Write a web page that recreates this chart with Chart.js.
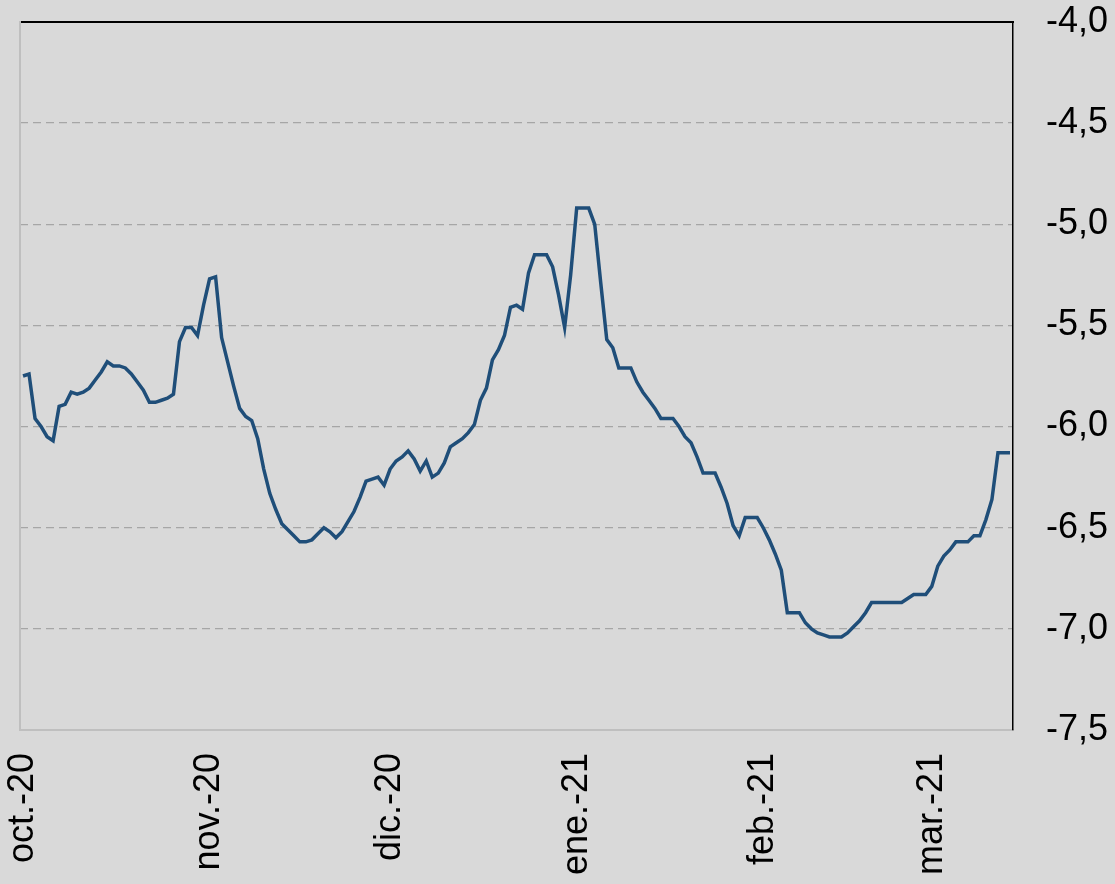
<!DOCTYPE html>
<html>
<head>
<meta charset="utf-8">
<script src="https://cdn.jsdelivr.net/npm/chart.js@4.4.1/dist/chart.umd.min.js"></script>
<style>
html,body{margin:0;padding:0;background:#d9d9d9;}
#wrap{width:1115px;height:884px;position:relative;}
</style>
</head>
<body>
<div id="wrap"><canvas id="c"></canvas></div>
<script>
// Categories: daily dates from 1 Oct 2020 to 14 Mar 2021
const firstDay = '2020-10-01';
const dayCount = 165;
// Month tick labels (shown on the first day of each month)
const monthNames = ['ene.','feb.','mar.','abr.','may.','jun.','jul.','ago.','sep.','oct.','nov.','dic.'];
// Y axis tick values
const yMin = -7.5, yMax = -4.0, yStep = 0.5;
// Series values (one per day)
const values = [
 -5.75,-5.74,-5.96,-6.00,-6.05,-6.07,-5.90,-5.89,-5.83,-5.84,
 -5.83,-5.81,-5.77,-5.73,-5.68,-5.70,-5.70,-5.71,-5.74,-5.78,
 -5.82,-5.88,-5.88,-5.87,-5.86,-5.84,-5.58,-5.51,-5.51,-5.55,
 -5.40,-5.27,-5.26,-5.56,-5.68,-5.80,-5.91,-5.95,-5.97,-6.06,
 -6.21,-6.33,-6.41,-6.48,-6.51,-6.54,-6.57,-6.57,-6.56,-6.53,
 -6.50,-6.52,-6.55,-6.52,-6.47,-6.42,-6.35,-6.27,-6.26,-6.25,
 -6.29,-6.21,-6.17,-6.15,-6.12,-6.16,-6.22,-6.17,-6.25,-6.23,
 -6.18,-6.10,-6.08,-6.06,-6.03,-5.99,-5.87,-5.81,-5.67,-5.62,
 -5.55,-5.41,-5.40,-5.42,-5.24,-5.15,-5.15,-5.15,-5.21,-5.35,
 -5.51,-5.25,-4.92,-4.92,-4.92,-5.00,-5.29,-5.57,-5.61,-5.71,
 -5.71,-5.71,-5.78,-5.83,-5.87,-5.91,-5.96,-5.96,-5.96,-6.00,
 -6.05,-6.08,-6.15,-6.23,-6.23,-6.23,-6.30,-6.38,-6.49,-6.54,
 -6.45,-6.45,-6.45,-6.50,-6.56,-6.63,-6.71,-6.92,-6.92,-6.92,
 -6.97,-7.00,-7.02,-7.03,-7.04,-7.04,-7.04,-7.02,-6.99,-6.96,
 -6.92,-6.87,-6.87,-6.87,-6.87,-6.87,-6.87,-6.85,-6.83,-6.83,
 -6.83,-6.79,-6.69,-6.64,-6.61,-6.57,-6.57,-6.57,-6.54,-6.54,
 -6.46,-6.36,-6.13,-6.13,-6.13
];

const dates = [];
{
  const d0 = new Date(firstDay + 'T12:00:00Z');
  for (let i = 0; i < dayCount; i++) {
    const d = new Date(d0.getTime() + i * 86400000);
    dates.push(d.toISOString().slice(0, 10));
  }
}
function monthLabel(iso) {
  const [y, m, d] = iso.split('-');
  if (d !== '01') return '';
  return monthNames[parseInt(m, 10) - 1] + '-' + y.slice(2);
}

const FONT = {family: "'Liberation Sans', Arial, sans-serif", size: 36};
function noPad(s) { s.paddingTop = 0; s.paddingBottom = 0; s.paddingLeft = 0; s.paddingRight = 0; }

new Chart(document.getElementById('c'), {
  type: 'line',
  data: {
    labels: dates,
    datasets: [{
      data: values,
      borderColor: '#1f4e79',
      borderWidth: 3.5,
      pointRadius: 0,
      tension: 0,
      fill: false,
      xAxisID: 'x',
      yAxisID: 'y'
    }]
  },
  options: {
    responsive: true,
    maintainAspectRatio: false,
    animation: false,
    layout: {padding: 0},
    plugins: {legend: {display: false}, tooltip: {enabled: false}},
    scales: {
      x: {
        type: 'category',
        position: 'bottom',
        offset: true,
        grid: {display: false, drawTicks: false},
        border: {display: true, color: '#bfbfbf', width: 2},
        ticks: {
          autoSkip: false,
          maxRotation: 90,
          minRotation: 90,
          padding: 23,
          color: '#000',
          font: FONT,
          callback: function(v, i) { return monthLabel(dates[i]); }
        },
        afterFit: s => { s.height = 154; noPad(s); }
      },
      xTop: {
        type: 'category',
        position: 'top',
        labels: dates,
        offset: true,
        grid: {display: false, drawTicks: false},
        border: {display: true, color: '#000', width: 2},
        ticks: {display: false},
        afterFit: s => { s.height = 22; noPad(s); }
      },
      y: {
        type: 'linear',
        position: 'right',
        min: yMin,
        max: yMax,
        grid: {
          drawTicks: false,
          lineWidth: 1.3,
          color: ctx => (ctx.tick && (ctx.tick.value === yMin || ctx.tick.value === yMax)) ? 'rgba(0,0,0,0)' : '#a6a6a6'
        },
        border: {display: true, color: '#000', width: 1.5, dash: [8, 5]},
        ticks: {
          stepSize: yStep,
          padding: 33,
          color: '#000',
          font: FONT,
          callback: v => v.toFixed(1).replace('.', ',')
        },
        afterFit: s => { s.width = 102; noPad(s); }
      },
      yLeft: {
        type: 'linear',
        position: 'left',
        min: yMin,
        max: yMax,
        grid: {display: false, drawTicks: false},
        border: {display: true, color: '#bfbfbf', width: 2},
        ticks: {display: false},
        afterFit: s => { s.width = 20; noPad(s); }
      }
    }
  }
});
</script>
</body>
</html>
